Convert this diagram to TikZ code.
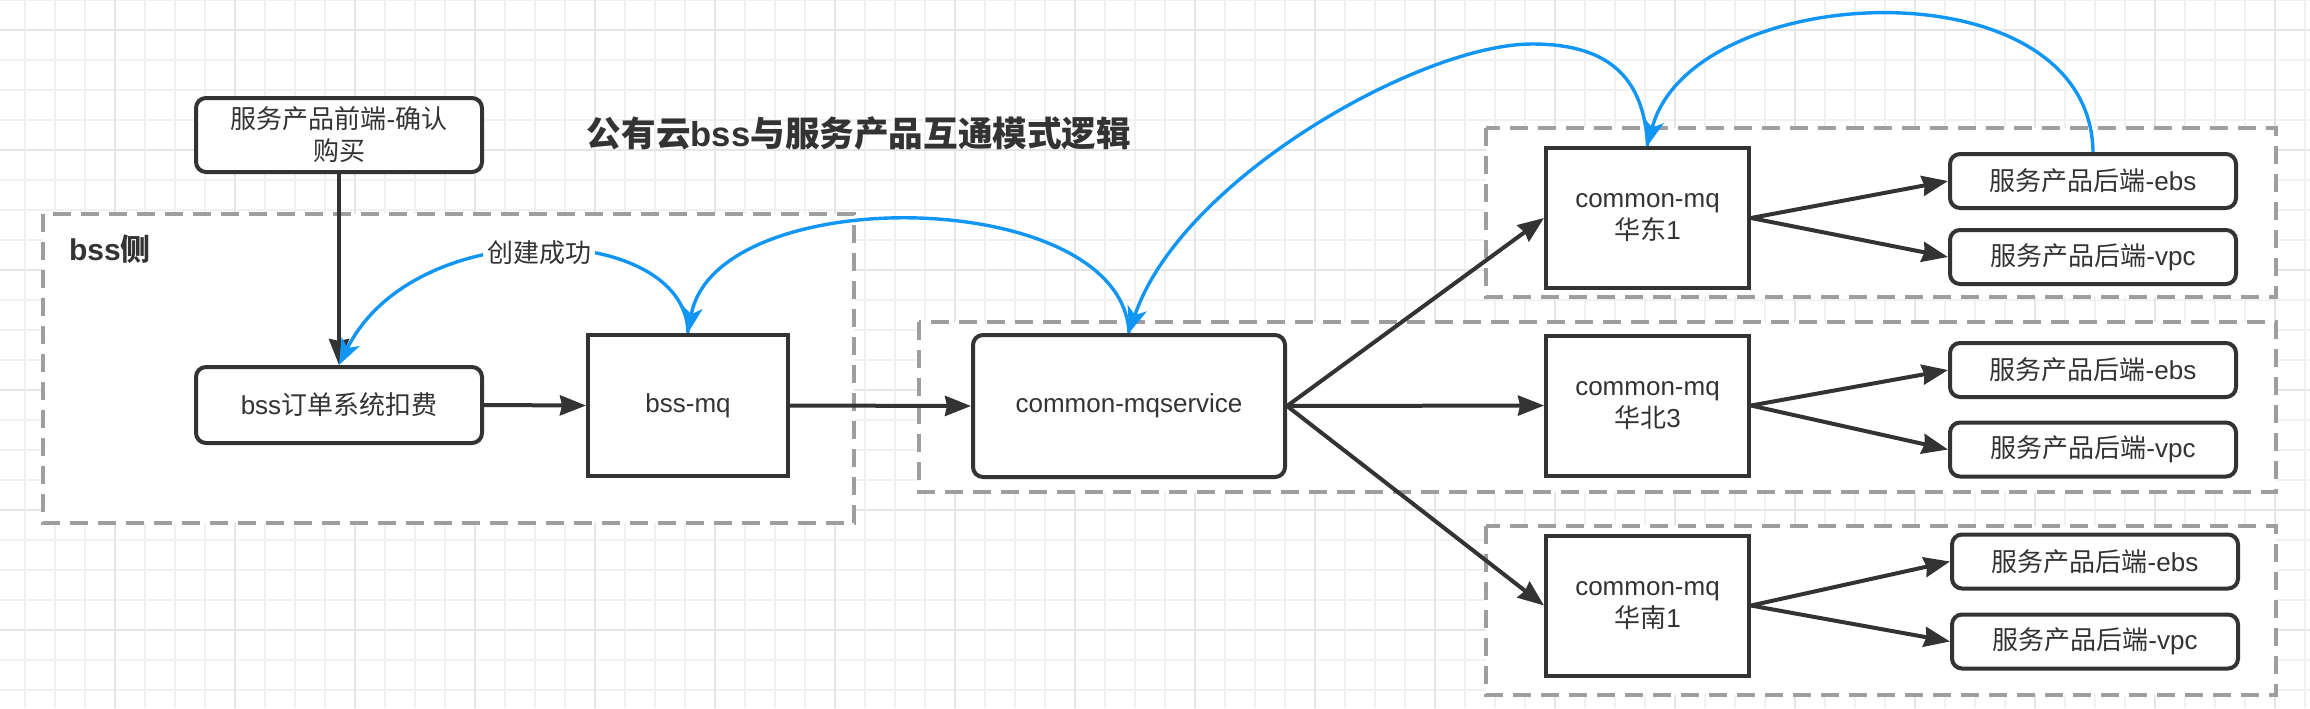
\documentclass[tikz,border=0pt]{standalone}
\usepackage{fontspec}
\setmainfont{Liberation Sans}
\newfontfamily\cjk{Noto Sans CJK SC}
\usetikzlibrary{arrows.meta}
\newcommand\zh[1]{{\cjk #1}}
\definecolor{ink}{HTML}{333333}
\definecolor{dashgray}{HTML}{9E9E9E}
\definecolor{flow}{HTML}{1296F5}
\definecolor{gridminor}{HTML}{F1F1F1}
\definecolor{gridmajor}{HTML}{E6E6E6}
\begin{document}
\begin{tikzpicture}[x=0.5pt,y=-0.5pt,
  box/.style={draw=ink, line width=2pt, fill=white, rounded corners=5pt, text=ink,
    font=\fontsize{13}{16}\selectfont, align=center, inner sep=0pt},
  sqbox/.style={box, sharp corners},
  container/.style={draw=dashgray, line width=2pt, dash pattern=on 9pt off 5pt, fill=white},
  arr/.style={draw=ink, line width=2pt, -{Stealth[length=13pt,width=10pt,inset=1pt]}},
  reply/.style={draw=flow, line width=1.7pt, -{Stealth[length=13pt,width=10pt,inset=3.5pt]}},
]
\useasboundingbox (0,0) rectangle (2310,708);
\fill[white] (0,0) rectangle (2310,708);
% grid
\foreach \i in {0,...,76} \draw[gridminor, line width=0.6pt] (25+30*\i,0) -- (25+30*\i,708);
\foreach \j in {0,...,23} \draw[gridminor, line width=0.6pt] (0,30*\j) -- (2310,30*\j);
\foreach \i in {0,...,18} \draw[gridmajor, line width=0.7pt] (115+120*\i,0) -- (115+120*\i,708);
\foreach \j in {0,...,5} \draw[gridmajor, line width=0.7pt] (0,30+120*\j) -- (2310,30+120*\j);

% containers
\draw[container] (43,214) rectangle (854,523);
\draw[container] (919,322) rectangle (2276,492);
\draw[container] (1486,128) rectangle (2276,297);
\draw[container] (1486,526) rectangle (2276,695);

% title and labels
\node[text=ink, font=\fontsize{17.3}{21}\selectfont\bfseries] (title) at (859,134)
  {\zh{公有云}bss\zh{与服务产品互通模式逻辑}};
\node[anchor=west, text=ink, font=\fontsize{15}{18}\selectfont\bfseries] (bssside) at (62,249) {bss\zh{侧}};

% nodes
\node[box, minimum width=143pt, minimum height=37pt] (front) at (339,135)
  {\zh{服务产品前端}-\zh{确认}\\\zh{购买}};
\node[box, minimum width=143pt, minimum height=38pt] (order) at (339,405) {bss\zh{订单系统扣费}};
\node[sqbox, minimum width=100pt, minimum height=70.5pt] (bssmq) at (688,405.5) {bss-mq};
\node[box, minimum width=156pt, minimum height=71pt] (mqs) at (1129,406) {common-mqservice};

\node[sqbox, minimum width=101.5pt, minimum height=70pt] (cm1) at (1647.5,218) {common-mq\\\zh{华东}1};
\node[sqbox, minimum width=101.5pt, minimum height=70pt] (cm2) at (1647.5,405.5) {common-mq\\\zh{华北}3};
\node[sqbox, minimum width=101.5pt, minimum height=70pt] (cm3) at (1647.5,605.5) {common-mq\\\zh{华南}1};

\node[box, minimum width=143pt, minimum height=27pt] (ebs1) at (2093,181) {\zh{服务产品后端}-ebs};
\node[box, minimum width=143pt, minimum height=27pt] (vpc1) at (2093,257) {\zh{服务产品后端}-vpc};
\node[box, minimum width=143pt, minimum height=27pt] (ebs2) at (2093,370) {\zh{服务产品后端}-ebs};
\node[box, minimum width=143pt, minimum height=27pt] (vpc2) at (2093,449.5) {\zh{服务产品后端}-vpc};
\node[box, minimum width=143pt, minimum height=27pt] (ebs3) at (2095,561.5) {\zh{服务产品后端}-ebs};
\node[box, minimum width=143pt, minimum height=27pt] (vpc3) at (2095,641.5) {\zh{服务产品后端}-vpc};

% black arrows
\draw[arr] (front.south) -- (order.north);
\draw[arr] (order.east) -- (bssmq.west);
\draw[arr] (bssmq.east) -- (mqs.west);
\draw[arr] (mqs.east) -- (cm1.west);
\draw[arr] (mqs.east) -- (cm2.west);
\draw[arr] (mqs.east) -- (cm3.west);
\draw[arr] (cm1.east) -- (ebs1.west);
\draw[arr] (cm1.east) -- (vpc1.west);
\draw[arr] (cm2.east) -- (ebs2.west);
\draw[arr] (cm2.east) -- (vpc2.west);
\draw[arr] (cm3.east) -- (ebs3.west);
\draw[arr] (cm3.east) -- (vpc3.west);

% blue reply curves
\coordinate (peakB) at (1532,44);
\draw[reply] (ebs1.north) .. controls (2090,-40) and (1690,-20) .. (cm1.north);
\draw[reply] (cm1.north) .. controls (1644,70) and (1600,44) .. (peakB)
  .. controls (1420,44) and (1180,180) .. (mqs.north);
\draw[reply] (mqs.north) .. controls (1122,185) and (715,180) .. (bssmq.north);
\draw[reply] (bssmq.north) .. controls (686,222) and (415,212) .. (order.north);
\node[fill=white, text=ink, inner sep=2pt, font=\fontsize{13}{16}\selectfont] (ok) at (539,253) {\zh{创建成功}};
\end{tikzpicture}
\end{document}
